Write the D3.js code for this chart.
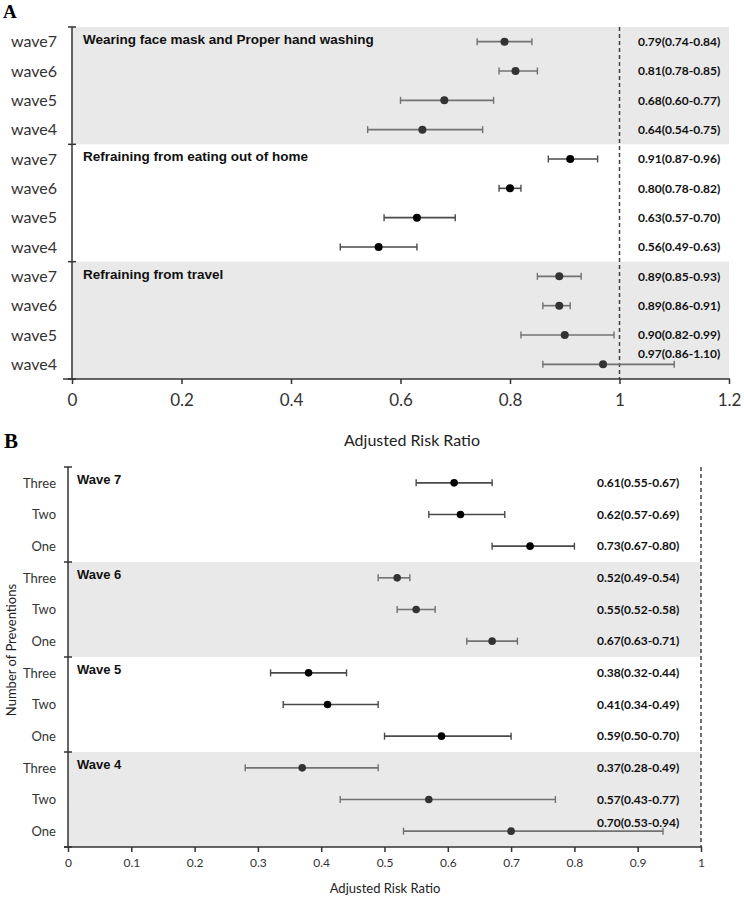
<!DOCTYPE html>
<html>
<head>
<meta charset="utf-8">
<script src="https://cdn.jsdelivr.net/npm/d3@7"></script>
<style>
  html, body { margin: 0; padding: 0; background: #fff; }
  svg { display: block; }
</style>
</head>
<body>
<svg id="chart" width="744" height="897"></svg>
<script>
// ---------------- Data: panel A ----------------
const groupsA = ["Wearing face mask and Proper hand washing", "Refraining from eating out of home", "Refraining from travel"];
const wavesA = ["wave7", "wave6", "wave5", "wave4"];
const rrA = [[0.79, 0.81, 0.68, 0.64], [0.91, 0.80, 0.63, 0.56], [0.89, 0.89, 0.90, 0.97]];
const loA = [[0.74, 0.78, 0.60, 0.54], [0.87, 0.78, 0.57, 0.49], [0.85, 0.86, 0.82, 0.86]];
const hiA = [[0.84, 0.85, 0.77, 0.75], [0.96, 0.82, 0.70, 0.63], [0.93, 0.91, 0.99, 1.10]];
const ticksA = [0, 0.2, 0.4, 0.6, 0.8, 1, 1.2];
const tickLabelsA = ["0", "0.2", "0.4", "0.6", "0.8", "1", "1.2"];
const xTitleA = "Adjusted Risk Ratio";

// ---------------- Data: panel B ----------------
const groupsB = ["Wave 7", "Wave 6", "Wave 5", "Wave 4"];
const levelsB = ["Three", "Two", "One"];
const rrB = [[0.61, 0.62, 0.73], [0.52, 0.55, 0.67], [0.38, 0.41, 0.59], [0.37, 0.57, 0.70]];
const loB = [[0.55, 0.57, 0.67], [0.49, 0.52, 0.63], [0.32, 0.34, 0.50], [0.28, 0.43, 0.53]];
const hiB = [[0.67, 0.69, 0.80], [0.54, 0.58, 0.71], [0.44, 0.49, 0.70], [0.49, 0.77, 0.94]];
const ticksB = [0, 0.1, 0.2, 0.3, 0.4, 0.5, 0.6, 0.7, 0.8, 0.9, 1];
const tickLabelsB = ["0", "0.1", "0.2", "0.3", "0.4", "0.5", "0.6", "0.7", "0.8", "0.9", "1"];
const xTitleB = "Adjusted Risk Ratio";
const yTitleB = "Number of Preventions";

const svg = d3.select("#chart");
const f2 = d3.format(".2f");
const SANS = "Lato, 'Open Sans', sans-serif";
const BOLDT = "'Liberation Sans', Arial, sans-serif";

function panel(cfg) {
  const g = svg.append("g");
  const rows = [];
  cfg.groups.forEach((grp, gi) => cfg.levels.forEach((lv, li) => rows.push({
    key: gi + "-" + li, gi, li, grp, lv,
    rr: cfg.rr[gi][li], lo: cfg.lo[gi][li], hi: cfg.hi[gi][li]
  })));
  const x = d3.scaleLinear().domain([0, cfg.xmax]).range([cfg.left, cfg.right]);
  const y = d3.scaleBand().domain(rows.map(r => r.key)).range([cfg.top, cfg.bottom]).paddingInner(0).paddingOuter(0);
  const gh = y.bandwidth() * cfg.levels.length;

  // bands
  cfg.groups.forEach((grp, gi) => {
    const y0 = y(gi + "-0");
    if (cfg.shaded(gi)) {
      g.append("rect").attr("x", x(0)).attr("y", y0).attr("width", x(cfg.bandMax) - x(0)).attr("height", gh)
        .attr("fill", "#e9e9e9");
    }
    g.append("text").attr("x", x(0) + cfg.titleDx).attr("y", y0 + 17)
      .attr("font-family", BOLDT).attr("font-weight", "bold").attr("font-size", cfg.titleSize)
      .attr("fill", "#111").text(grp);
  });

  // reference dashed line
  g.append("line").attr("x1", x(1)).attr("x2", x(1)).attr("y1", cfg.top).attr("y2", cfg.bottom)
    .attr("stroke", "#444").attr("stroke-width", 1.5).attr("stroke-dasharray", "4,3");

  // error bars and points
  rows.forEach(r => {
    const cy = y(r.key) + y.bandwidth() / 2;
    const sh = cfg.shaded(r.gi);
    const bc = sh ? "#727272" : "#4a4a4a";
    const dc = sh ? "#333" : "#000";
    g.append("line").attr("x1", x(r.lo)).attr("x2", x(r.hi)).attr("y1", cy).attr("y2", cy)
      .attr("stroke", bc).attr("stroke-width", 1.6);
    [r.lo, r.hi].forEach(v => g.append("line").attr("x1", x(v)).attr("x2", x(v))
      .attr("y1", cy - 3.5).attr("y2", cy + 3.5).attr("stroke", bc).attr("stroke-width", 1.4));
    g.append("circle").attr("cx", x(r.rr)).attr("cy", cy).attr("r", cfg.r).attr("fill", dc);
    const raise = x(r.hi) > cfg.labelX - 4 ? cfg.raise : 0;
    g.append("text").attr("x", cfg.labelX).attr("y", cy - raise).attr("dy", "0.36em")
      .attr("font-family", SANS).attr("font-weight", "bold").attr("font-size", cfg.valSize)
      .attr("fill", "#111").text(`${f2(r.rr)}(${f2(r.lo)}-${f2(r.hi)})`);
    g.append("text").attr("x", cfg.catX).attr("y", cy).attr("dy", "0.36em").attr("text-anchor", "end")
      .attr("font-family", SANS).attr("font-size", cfg.catSize).attr("fill", "#333").text(r.lv);
  });

  // y axis
  g.append("line").attr("x1", x(0)).attr("x2", x(0)).attr("y1", cfg.top).attr("y2", cfg.bottom)
    .attr("stroke", "#333").attr("stroke-width", 1.5);
  const bounds = cfg.groups.map((_, gi) => y(gi + "-0")).concat([cfg.bottom]);
  bounds.forEach(b => g.append("line").attr("x1", x(0) - 4).attr("x2", x(0) + 4).attr("y1", b).attr("y2", b)
    .attr("stroke", "#333").attr("stroke-width", 1.5));

  // x axis
  const ax = g.append("g").attr("transform", `translate(0,${cfg.bottom})`)
    .call(d3.axisBottom(x).tickValues(cfg.ticks).tickFormat((d, i) => cfg.tickLabels[i]).tickSizeInner(5).tickSizeOuter(0).tickPadding(cfg.tickPad));
  ax.select(".domain").remove();
  ax.selectAll(".tick line").attr("stroke", "#333").attr("stroke-width", 1.5);
  ax.selectAll(".tick text").attr("font-family", SANS).attr("font-size", cfg.tickSize).attr("fill", "#333");
  g.append("line").attr("x1", x(0) - cfg.axisExt).attr("x2", cfg.right + 1).attr("y1", cfg.bottom).attr("y2", cfg.bottom)
    .attr("stroke", "#333").attr("stroke-width", 1.5);

  g.append("text").attr("x", cfg.xTitleX).attr("y", cfg.xTitleY).attr("text-anchor", "middle")
    .attr("font-family", SANS).attr("font-size", cfg.xTitleSize).attr("fill", "#222").text(cfg.xTitle);
  return { g, x, y };
}

// Panel A
svg.append("text").attr("x", 3).attr("y", 18).attr("font-family", "'Liberation Serif', 'Times New Roman', serif")
  .attr("font-weight", "bold").attr("font-size", 19).attr("fill", "#000").text("A");
panel({
  groups: groupsA, levels: wavesA, rr: rrA, lo: loA, hi: hiA,
  xmax: 1.2, bandMax: 1.2, left: 72, right: 729, top: 27, bottom: 379,
  shaded: gi => gi % 2 === 0, titleDx: 11, titleSize: 13.5, r: 4,
  labelX: 638, raise: 11, valSize: 12, catX: 57, catSize: 16,
  ticks: ticksA, tickLabels: tickLabelsA, tickSize: 17, tickPad: 10, axisExt: 9,
  xTitle: xTitleA, xTitleX: 412, xTitleY: 446, xTitleSize: 16
});

// Panel B
svg.append("text").attr("x", 4).attr("y", 448).attr("font-family", "'Liberation Serif', 'Times New Roman', serif")
  .attr("font-weight", "bold").attr("font-size", 21).attr("fill", "#000").text("B");
panel({
  groups: groupsB, levels: levelsB, rr: rrB, lo: loB, hi: hiB,
  xmax: 1, bandMax: 1, left: 68, right: 701, top: 467, bottom: 847,
  shaded: gi => gi % 2 === 1, titleDx: 9, titleSize: 13, r: 3.8,
  labelX: 597, raise: 8, valSize: 12, catX: 56, catSize: 13,
  ticks: ticksB, tickLabels: tickLabelsB, tickSize: 12, tickPad: 6, axisExt: 4,
  xTitle: xTitleB, xTitleX: 385, xTitleY: 893, xTitleSize: 13
});
svg.append("text").attr("transform", "translate(16,650) rotate(-90)").attr("text-anchor", "middle")
  .attr("font-family", SANS).attr("font-size", 13).attr("fill", "#222").text(yTitleB);
</script>
</body>
</html>
